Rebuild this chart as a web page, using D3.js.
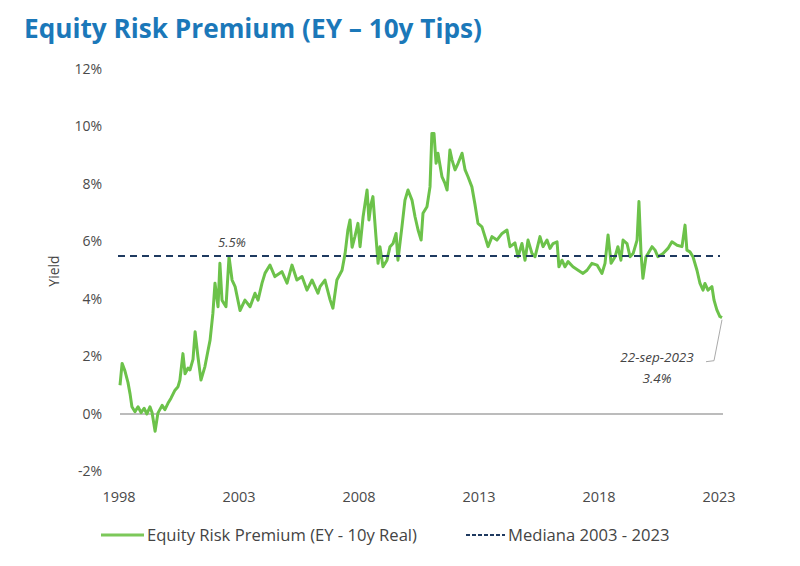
<!DOCTYPE html>
<html>
<head>
<meta charset="utf-8">
<script src="https://cdn.jsdelivr.net/npm/d3@7"></script>
<style>
  html, body { margin: 0; padding: 0; background: #fff; }
  svg { display: block; font-family: "Open Sans", "Noto Sans", sans-serif; }
</style>
</head>
<body>
<svg id="chart" width="800" height="566"></svg>
<script>
// ---- data ----
const years = [
  1998.00,1998.09,1998.21,1998.34,1998.43,1998.51,1998.64,1998.77,1998.90,1999.03,
  1999.15,1999.28,1999.37,1999.50,1999.62,1999.80,1999.92,2000.05,2000.18,2000.35,
  2000.48,2000.56,2000.69,2000.78,2000.91,2000.99,2001.12,2001.21,2001.33,2001.46,
  2001.63,2001.76,2001.85,2001.97,2002.06,2002.19,2002.27,2002.36,2002.53,2002.66,
  2002.79,2002.92,2003.13,2003.34,2003.56,2003.77,2003.90,2004.07,2004.20,2004.41,
  2004.62,2004.92,2005.14,2005.35,2005.56,2005.78,2005.99,2006.21,2006.46,2006.55,
  2006.76,2006.98,2007.10,2007.27,2007.49,2007.62,2007.74,2007.83,2007.92,2008.04,
  2008.17,2008.26,2008.39,2008.56,2008.64,2008.73,2008.81,2008.94,2009.03,2009.11,
  2009.24,2009.41,2009.54,2009.67,2009.80,2009.88,2010.05,2010.18,2010.31,2010.48,
  2010.61,2010.74,2010.87,2010.95,2011.12,2011.25,2011.33,2011.42,2011.51,2011.59,
  2011.76,2011.89,2011.98,2012.10,2012.19,2012.32,2012.45,2012.62,2012.75,2012.87,
  2013.04,2013.17,2013.30,2013.47,2013.60,2013.73,2013.90,2014.11,2014.33,2014.54,
  2014.67,2014.88,2015.01,2015.18,2015.31,2015.44,2015.61,2015.74,2015.95,2016.08,
  2016.25,2016.38,2016.51,2016.68,2016.76,2016.89,2017.02,2017.15,2017.36,2017.58,
  2017.79,2017.96,2018.17,2018.39,2018.60,2018.73,2018.86,2018.99,2019.16,2019.28,
  2019.41,2019.50,2019.67,2019.80,2019.93,2020.10,2020.18,2020.27,2020.35,2020.48,
  2020.57,2020.74,2020.87,2020.99,2021.21,2021.42,2021.59,2021.81,2022.02,2022.15,
  2022.23,2022.36,2022.49,2022.66,2022.79,2022.92,2023.00,2023.13,2023.30,2023.39,
  2023.51,2023.64,2023.73
];
const erp = [
  1.00,1.76,1.50,1.10,0.70,0.25,0.08,0.25,0.05,0.20,
  0.00,0.25,0.05,-0.60,0.03,0.30,0.15,0.37,0.55,0.83,
  0.95,1.18,2.10,1.40,1.60,1.53,1.90,2.86,2.00,1.18,
  1.65,2.20,2.57,3.50,4.55,3.73,5.24,3.96,3.73,5.47,
  4.66,4.43,3.60,3.96,3.73,4.20,3.96,4.55,4.90,5.18,
  4.78,4.95,4.55,5.18,4.66,4.78,4.31,4.66,4.20,4.43,
  4.66,3.97,3.68,4.66,5.00,5.58,6.40,6.75,5.80,6.17,
  6.63,5.82,6.86,7.79,6.75,7.30,7.56,6.17,5.24,5.82,
  5.12,5.35,5.82,5.93,6.28,5.35,6.51,7.44,7.79,7.44,
  6.86,6.40,6.05,6.98,7.21,7.90,9.76,9.76,8.72,9.07,
  8.26,8.02,7.79,9.18,8.84,8.49,8.72,9.07,8.49,8.26,
  7.90,7.30,6.63,6.51,6.17,5.82,6.17,6.05,6.28,6.40,
  5.82,5.95,5.47,5.93,5.35,6.05,5.58,5.47,6.17,5.82,
  6.05,5.76,5.93,5.99,5.12,5.35,5.12,5.30,5.12,5.00,
  4.89,5.00,5.24,5.18,4.89,5.24,6.23,5.24,5.47,5.82,
  5.35,6.05,5.93,5.47,5.58,6.05,7.39,5.58,4.72,5.47,
  5.58,5.82,5.70,5.47,5.58,5.76,5.99,5.87,5.82,6.57,
  5.70,5.64,5.47,5.00,4.54,4.31,4.54,4.31,4.43,3.96,
  3.62,3.39,3.35
];
const median = 5.5;
const yTicks = [-2, 0, 2, 4, 6, 8, 10, 12];
const xTickLabels = ["1998", "2003", "2008", "2013", "2018", "2023"];
const titleText = "Equity Risk Premium (EY \u2013 10y Tips)";
const yTitle = "Yield";
const legendLabels = ["Equity Risk Premium (EY - 10y Real)", "Mediana 2003 - 2023"];
const medianLabel = "5.5%";
const lastDateLabel = "22-sep-2023";
const lastValueLabel = "3.4%";

// ---- drawing ----
const svg = d3.select("#chart");
const green = "#6cc24a";
const navy = "#1f3a60";
const textCol = "#4a4a4a";

const x = d3.scaleLinear().domain([1998, 2023.73]).range([120, 722]);
const y = d3.scaleLinear().domain([-2, 12]).range([471.5, 69]);
const xLab = d3.scalePoint().domain(xTickLabels).range([119, 719]);

// title
svg.append("text")
  .attr("x", 24).attr("y", 38)
  .attr("fill", "#1b78b9")
  .attr("font-size", 26.2).attr("font-weight", 700)
  .text(titleText);

// y tick labels
svg.append("g").selectAll("text").data(yTicks).join("text")
  .attr("x", 102).attr("y", d => y(d)).attr("dy", "0.35em")
  .attr("text-anchor", "end")
  .attr("font-size", 14).attr("fill", textCol)
  .text(d => d + "%");

// y title
svg.append("text")
  .attr("transform", `translate(59, ${271}) rotate(-90)`)
  .attr("text-anchor", "middle")
  .attr("font-size", 14).attr("fill", "#444")
  .text(yTitle);

// x tick labels
svg.append("g").selectAll("text").data(xTickLabels).join("text")
  .attr("x", d => xLab(d)).attr("y", 502)
  .attr("text-anchor", "middle")
  .attr("font-size", 14.5).attr("fill", textCol)
  .text(d => d);

// zero line
svg.append("line")
  .attr("x1", x(1998)).attr("x2", x(2023.73) + 1)
  .attr("y1", y(0)).attr("y2", y(0))
  .attr("stroke", "#a6a6a6").attr("stroke-width", 1.5);

// series
const data = years.map((t, i) => [t, erp[i]]);
svg.append("path")
  .datum(data)
  .attr("fill", "none")
  .attr("stroke", green)
  .attr("stroke-width", 3)
  .attr("stroke-linejoin", "round")
  .attr("d", d3.line().x(d => x(d[0])).y(d => y(d[1])));

// median line
svg.append("line")
  .attr("x1", x(1998) - 2).attr("x2", x(2023.73) - 2)
  .attr("y1", y(median)).attr("y2", y(median))
  .attr("stroke", navy).attr("stroke-width", 2)
  .attr("stroke-dasharray", "7,5");

svg.append("text")
  .attr("x", 232).attr("y", y(median) - 9)
  .attr("text-anchor", "middle")
  .attr("font-size", 13).attr("font-style", "italic").attr("fill", "#444")
  .text(medianLabel);

// last point annotation
const lastX = x(years[years.length - 1]);
const lastY = y(erp[erp.length - 1]);
svg.append("path")
  .attr("d", `M${lastX},${lastY + 2} L${lastX - 8},${lastY + 43} L${lastX - 16},${lastY + 44}`)
  .attr("fill", "none").attr("stroke", "#aaa").attr("stroke-width", 1);
svg.append("text")
  .attr("x", 657).attr("y", 362)
  .attr("text-anchor", "middle")
  .attr("font-size", 13.5).attr("font-style", "italic").attr("fill", "#444")
  .text(lastDateLabel);
svg.append("text")
  .attr("x", 657).attr("y", 383)
  .attr("text-anchor", "middle")
  .attr("font-size", 13.5).attr("font-style", "italic").attr("fill", "#444")
  .text(lastValueLabel);

// legend
const ly = 535;
svg.append("line").attr("x1", 101).attr("x2", 144).attr("y1", ly).attr("y2", ly)
  .attr("stroke", "#7cc85a").attr("stroke-width", 3);
svg.append("text").attr("x", 147).attr("y", ly).attr("dy", "0.35em")
  .attr("font-size", 16.6).attr("fill", "#444").text(legendLabels[0]);
svg.append("line").attr("x1", 466).attr("x2", 505).attr("y1", ly).attr("y2", ly)
  .attr("stroke", navy).attr("stroke-width", 2).attr("stroke-dasharray", "4,2");
svg.append("text").attr("x", 508).attr("y", ly).attr("dy", "0.35em")
  .attr("font-size", 16.6).attr("fill", "#444").text(legendLabels[1]);
</script>
</body>
</html>
